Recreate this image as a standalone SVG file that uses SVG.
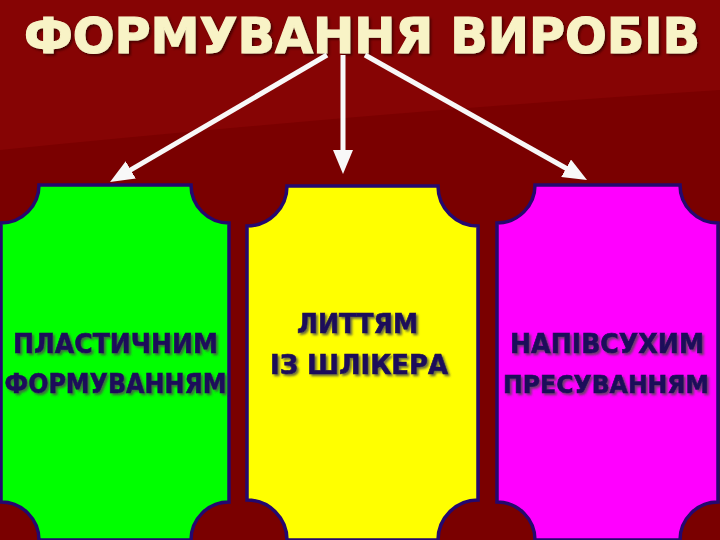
<svg xmlns="http://www.w3.org/2000/svg" width="720" height="540" viewBox="0 0 720 540">
<style>
.box{stroke:#24086e;stroke-width:3.5}
.lbl{font-family:"DejaVu Sans","Liberation Sans",sans-serif;font-weight:bold;font-size:26px;fill:#1c0a5a;stroke:#1c0a5a;stroke-width:0.6;text-anchor:middle;filter:url(#sh)}
.sm{font-size:24px}
.title{font-family:"DejaVu Sans","Liberation Sans",sans-serif;font-weight:bold;font-size:50px;fill:#f8f3c6;stroke:#f8f3c6;stroke-width:1.2;filter:url(#sh2)}
.arr{stroke:#f8f8f8;stroke-width:5;fill:none;marker-end:url(#ah)}
</style>
<defs>
<marker id="ah" markerUnits="userSpaceOnUse" markerWidth="26" markerHeight="20" refX="4" refY="10" orient="auto">
<path d="M0,0 L24,10 L0,20 Z" fill="#f8f8f8"/>
</marker>
<filter id="sh" x="-10%" y="-30%" width="120%" height="160%">
<feDropShadow dx="2" dy="2" stdDeviation="0.8" flood-color="#4a4a4a" flood-opacity="0.8"/>
</filter>
<filter id="sh2" x="-5%" y="-30%" width="110%" height="160%">
<feDropShadow dx="2" dy="2" stdDeviation="1" flood-color="#3a0000" flood-opacity="0.8"/>
</filter>
</defs>
<rect x="0" y="0" width="720" height="540" fill="#7a0000"/>
<path d="M0,0 H720 V90 Q380,112 0,150 Z" fill="#860404"/>
<g id="title">
<text class="title" x="24" y="53" textLength="676" lengthAdjust="spacingAndGlyphs">ФОРМУВАННЯ ВИРОБІВ</text>
</g>
<g id="connectors">
<line class="arr" x1="327" y1="55" x2="127.3" y2="171.9"/>
<line class="arr" x1="343" y1="55" x2="343" y2="154"/>
<line class="arr" x1="365" y1="55" x2="569.6" y2="170.2"/>
</g>
<g id="node-plastic">
<path class="box" fill="#00ff00" d="M39,185 H191 A38,38 0 0 0 229,223 V502 A38,38 0 0 0 191,540 H39 A38,38 0 0 0 1,502 V223 A38,38 0 0 0 39,185 Z"/>
<text class="lbl" x="115.5" y="353" textLength="205" lengthAdjust="spacingAndGlyphs">ПЛАСТИЧНИМ</text>
<text class="lbl" x="115.5" y="393" textLength="222" lengthAdjust="spacingAndGlyphs">ФОРМУВАННЯМ</text>
</g>
<g id="node-casting">
<path class="box" fill="#ffff00" d="M287,186 H438 A40,40 0 0 0 478,226 V500 A40,40 0 0 0 438,540 H287 A40,40 0 0 0 247,500 V226 A40,40 0 0 0 287,186 Z"/>
<text class="lbl" x="357.5" y="333" textLength="121" lengthAdjust="spacingAndGlyphs">ЛИТТЯМ</text>
<text class="lbl" x="359" y="374" textLength="178" lengthAdjust="spacingAndGlyphs">ІЗ ШЛІКЕРА</text>
</g>
<g id="node-pressing">
<path class="box" fill="#ff00ff" d="M535,185 H680 A38,38 0 0 0 718,223 V502 A38,38 0 0 0 680,540 H535 A38,38 0 0 0 497,502 V223 A38,38 0 0 0 535,185 Z"/>
<text class="lbl" x="607" y="353" textLength="194" lengthAdjust="spacingAndGlyphs">НАПІВСУХИМ</text>
<text class="lbl sm" x="606" y="393" textLength="206" lengthAdjust="spacingAndGlyphs">ПРЕСУВАННЯМ</text>
</g>
</svg>
